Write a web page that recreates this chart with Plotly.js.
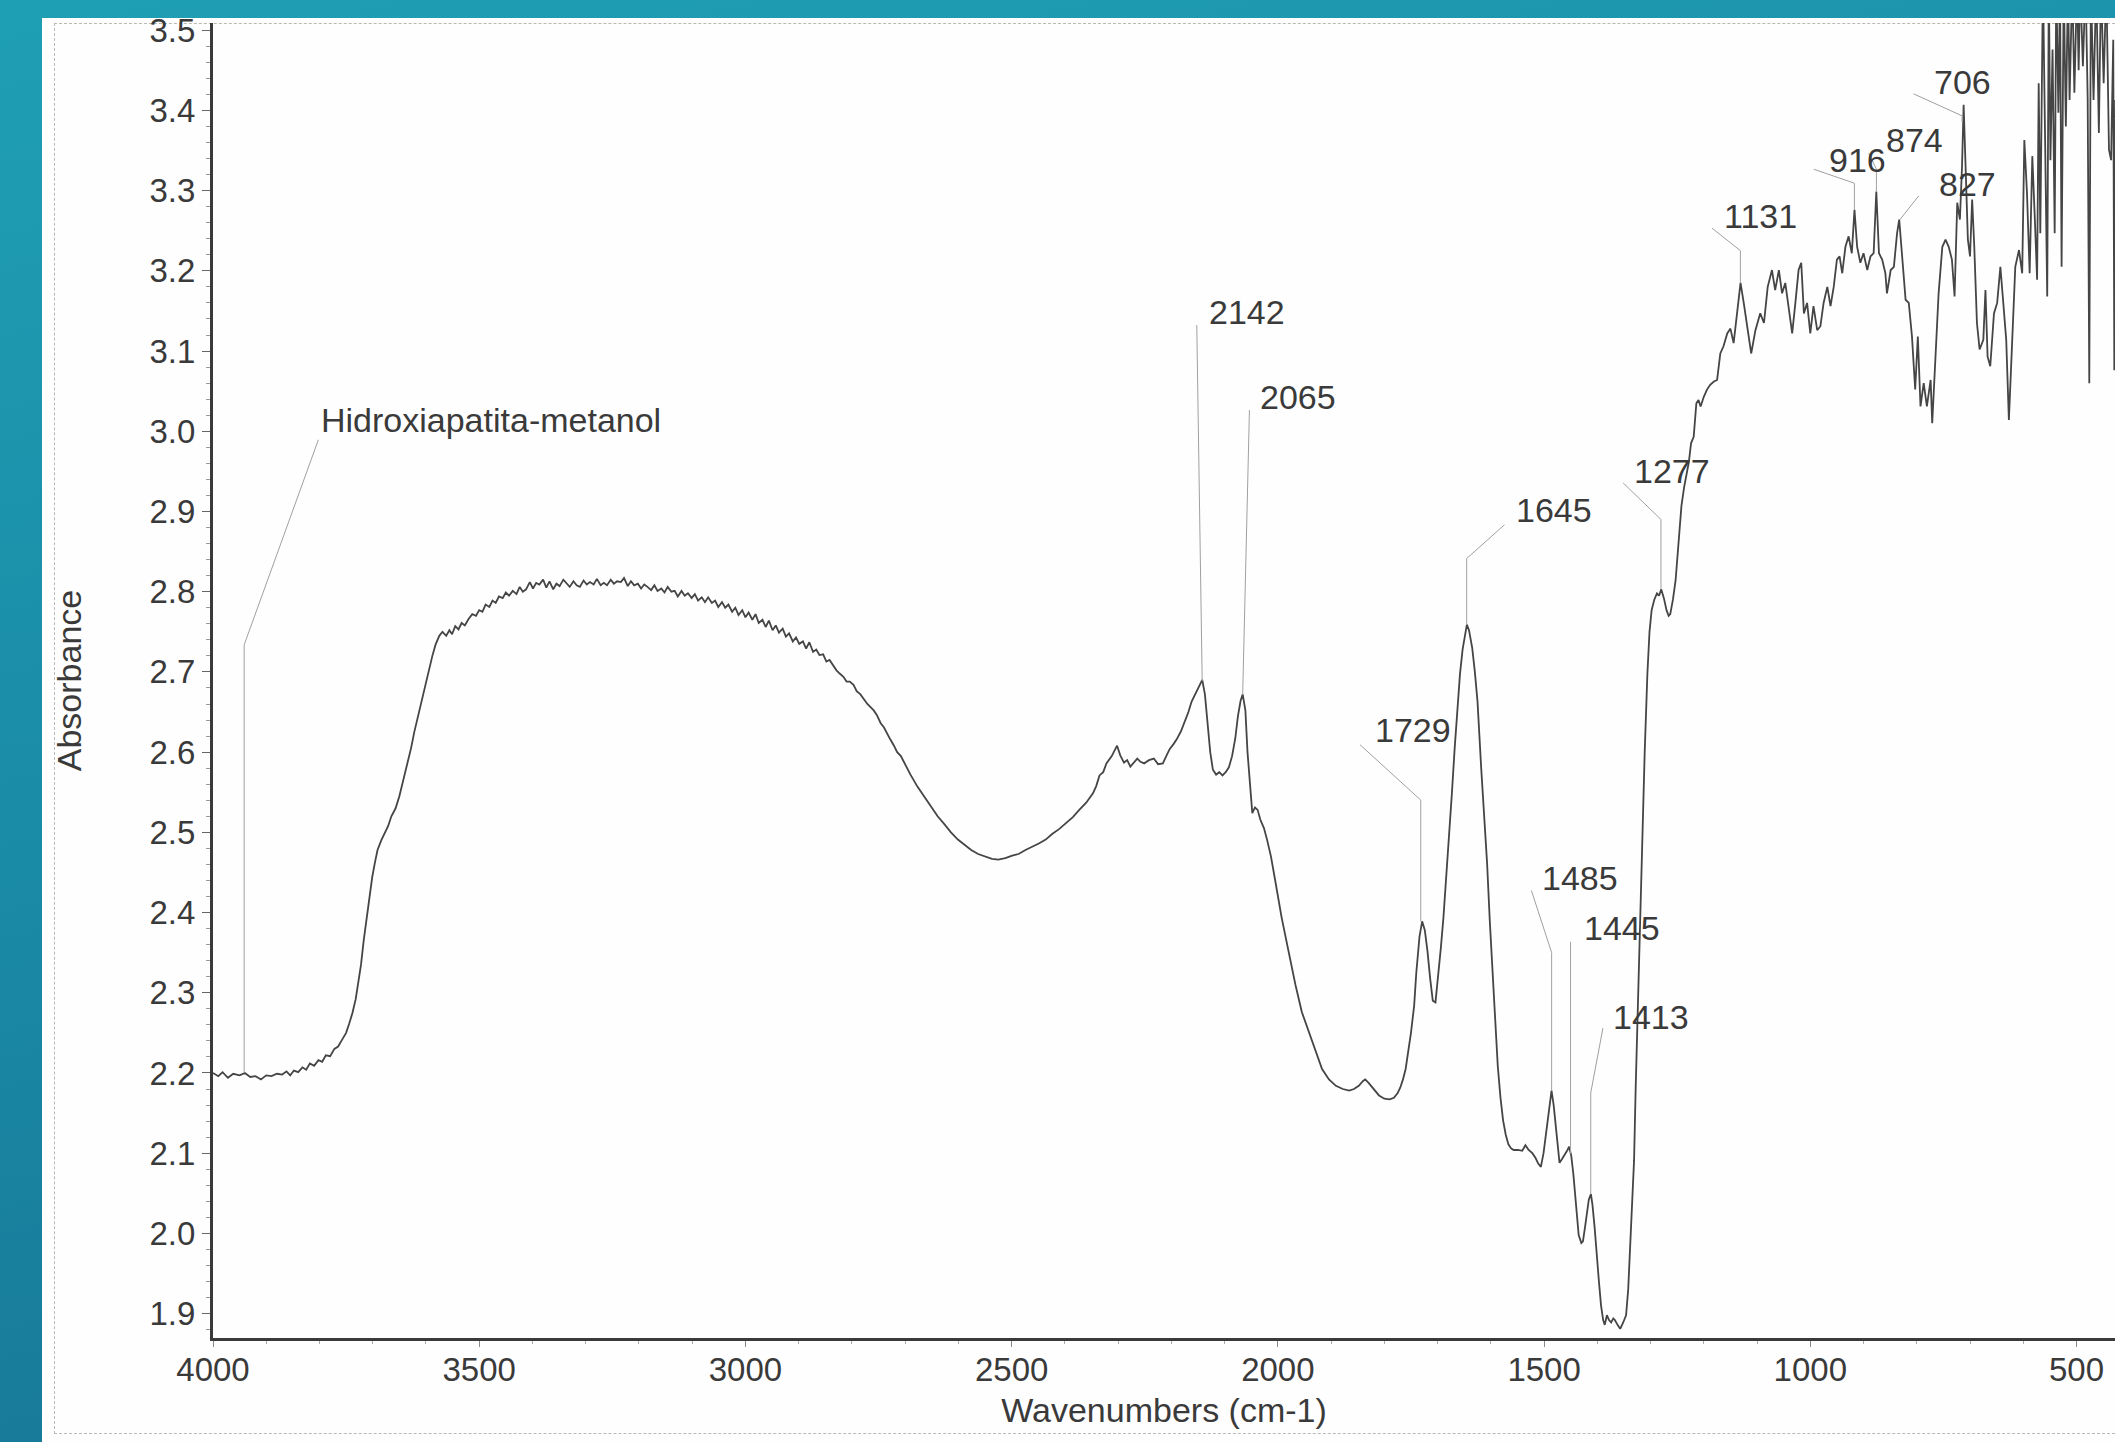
<!DOCTYPE html>
<html><head><meta charset="utf-8">
<script src="https://cdn.plot.ly/plotly-3.0.1.min.js"></script>
<style>
html,body{margin:0;padding:0;width:2115px;height:1442px;overflow:hidden;}
body{background:linear-gradient(168deg,#1f9fb4 0%,#1a8ba7 45%,#166f90 100%);position:relative;}
#page{position:absolute;left:42px;top:18px;width:2073px;height:1424px;background:#fefefe;}
#frame{position:absolute;left:54px;top:23px;width:2070px;height:1409px;border-left:1px dashed #b8b8b8;border-top:1px dashed #b8b8b8;border-bottom:1px dashed #b8b8b8;}
#chart{position:absolute;left:0;top:0;width:2115px;height:1442px;}
</style></head><body>
<div id="page"></div><div id="frame"></div><div id="chart"></div>
<script>
// ---- data ----
const sampleName = 'Hidroxiapatita-metanol';
const xTitle = 'Wavenumbers (cm-1)';
const yTitle = 'Absorbance';
const xTickValues = [4000, 3500, 3000, 2500, 2000, 1500, 1000, 500];
const yTickValues = [1.9, 2.0, 2.1, 2.2, 2.3, 2.4, 2.5, 2.6, 2.7, 2.8, 2.9, 3.0, 3.1, 3.2, 3.3, 3.4, 3.5];
const peakLabels = ['2142','2065','1729','1645','1485','1445','1413','1277','1131','916','874','827','706'];

const wavenumbers = [
4000,3990,3982,3972,3962,3950,3940,3930,3920,3910,3900,3890,3880,3870,3862,3855,3848,3840,3832,3825,3818,3810,3802,3795,3788,3780,3772,3765,3758,3750,
3744,3738,3732,3727,3722,3717,3711,3706,3701,3696,3691,3684,3678,3671,3665,3657,3650,3642,3635,3628,3622,3615,3609,3601,3594,3588,3582,3575,3569,3562,
3556,3551,3545,3539,3533,3527,3520,3513,3506,3500,3494,3488,3481,3475,3469,3463,3456,3450,3444,3437,3430,3424,3418,3412,3405,3399,3393,3387,3380,3374,
3368,3361,3355,3349,3342,3336,3330,3323,3317,3311,3304,3298,3292,3285,3279,3272,3266,3260,3253,3247,3241,3234,3228,3221,3215,3209,3202,3196,3190,3184,
3177,3171,3165,3158,3152,3146,3139,3133,3127,3120,3114,3108,3101,3095,3089,3082,3076,3070,3063,3057,3051,3044,3038,3032,3025,3019,3013,3006,3000,2994,
2987,2981,2975,2968,2962,2956,2949,2943,2937,2930,2924,2918,2911,2905,2899,2892,2886,2880,2873,2867,2861,2854,2848,2842,2835,2829,2823,2816,2810,2804,
2797,2791,2784,2778,2771,2765,2759,2753,2746,2740,2734,2728,2721,2715,2708,2702,2690,2677,2665,2652,2639,2626,2614,2601,2588,2576,2563,2550,2537,2525,
2512,2499,2487,2474,2461,2449,2436,2424,2411,2398,2385,2373,2360,2347,2341,2335,2328,2322,2312,2302,2296,2289,2283,2277,2270,2264,2258,2251,2242,2233,
2225,2216,2209,2203,2196,2190,2182,2175,2168,2162,2155,2148,2142,2137,2132,2127,2122,2116,2110,2104,2098,2092,2086,2080,2075,2070,2066,2061,2057,2052,
2048,2043,2038,2033,2026,2020,2013,2005,1993,1980,1967,1955,1942,1929,1917,1904,1891,1878,1866,1857,1848,1840,1836,1830,1823,1810,1800,1790,1782,1775,
1770,1765,1760,1755,1750,1744,1740,1734,1729,1724,1719,1714,1709,1704,1699,1694,1689,1684,1678,1673,1668,1663,1658,1653,1648,1645,1641,1635,1630,1625,
1618,1612,1607,1602,1597,1592,1587,1582,1577,1572,1567,1562,1557,1549,1541,1535,1529,1522,1516,1511,1506,1501,1496,1491,1486,1482,1478,1474,1471,1466,
1460,1456,1453,1449,1445,1440,1435,1430,1427,1423,1420,1416,1412,1409,1405,1401,1397,1393,1389,1386,1382,1378,1374,1370,1367,1362,1357,1352,1346,1342,
1339,1335,1331,1328,1324,1320,1316,1311,1306,1302,1298,1293,1288,1284,1280,1275,1270,1266,1263,1258,1253,1248,1242,1237,1232,1228,1224,1219,1214,1210,
1206,1200,1194,1188,1181,1175,1169,1163,1156,1150,1144,1138,1131,1125,1119,1111,1103,1094,1087,1080,1072,1066,1059,1053,1047,1040,1034,1028,1022,1017,
1012,1006,1000,994,987,981,975,968,962,956,950,945,940,934,928,922,917,912,906,900,893,887,881,876,871,865,859,856,849,843,
837,833,828,821,815,809,803,798,793,787,781,774,771,765,759,752,746,740,734,729,724,719,715,712,708,704,700,696,692,687,
682,675,671,667,662,655,649,643,638,632,627,622,615,608,602,598,593,588,583,578,574,571,568,563,558,555,552,549,545,541,
538,534,531,528,524,520,516,513,508,504,499,496,493,488,483,479,476,473,468,463,458,454,449,444,439,435,431,429,427
];

const absorbance = [
2.200,2.196,2.201,2.194,2.199,2.197,2.200,2.195,2.196,2.192,2.197,2.196,2.199,2.198,2.202,2.197,2.203,2.201,2.207,2.204,2.212,2.209,2.216,2.214,2.222,2.221,2.230,2.233,2.241,2.250,
2.262,2.275,2.292,2.312,2.335,2.365,2.394,2.425,2.444,2.462,2.478,2.490,2.498,2.508,2.520,2.530,2.545,2.566,2.587,2.605,2.625,2.645,2.663,2.685,2.705,2.720,2.734,2.745,2.750,2.745,
2.752,2.747,2.757,2.753,2.761,2.758,2.766,2.772,2.770,2.777,2.775,2.784,2.781,2.789,2.786,2.794,2.792,2.799,2.795,2.801,2.797,2.806,2.800,2.803,2.812,2.804,2.811,2.809,2.815,2.805,
2.813,2.803,2.810,2.807,2.815,2.811,2.806,2.813,2.808,2.806,2.814,2.809,2.812,2.809,2.816,2.808,2.811,2.808,2.815,2.810,2.813,2.812,2.817,2.807,2.813,2.808,2.810,2.804,2.809,2.806,
2.802,2.808,2.801,2.804,2.799,2.806,2.800,2.801,2.794,2.801,2.795,2.798,2.792,2.797,2.789,2.793,2.787,2.793,2.786,2.789,2.781,2.787,2.780,2.784,2.775,2.780,2.771,2.777,2.768,2.774,
2.765,2.772,2.761,2.765,2.756,2.764,2.752,2.758,2.749,2.754,2.744,2.748,2.738,2.743,2.735,2.738,2.729,2.737,2.725,2.728,2.721,2.722,2.713,2.715,2.707,2.702,2.698,2.694,2.688,2.688,
2.684,2.676,2.672,2.666,2.660,2.656,2.652,2.646,2.636,2.631,2.623,2.616,2.608,2.600,2.595,2.587,2.572,2.557,2.545,2.532,2.520,2.510,2.500,2.491,2.484,2.478,2.473,2.470,2.467,2.466,
2.468,2.471,2.473,2.478,2.482,2.486,2.491,2.498,2.504,2.512,2.519,2.528,2.537,2.549,2.558,2.571,2.575,2.586,2.595,2.608,2.596,2.587,2.590,2.582,2.588,2.592,2.588,2.586,2.590,2.592,
2.585,2.586,2.596,2.604,2.610,2.616,2.626,2.638,2.650,2.663,2.672,2.682,2.690,2.672,2.640,2.600,2.578,2.572,2.575,2.571,2.575,2.581,2.595,2.617,2.645,2.664,2.672,2.652,2.600,2.550,
2.524,2.531,2.528,2.516,2.505,2.490,2.470,2.440,2.394,2.352,2.310,2.276,2.251,2.226,2.205,2.192,2.184,2.180,2.178,2.180,2.184,2.190,2.192,2.188,2.182,2.172,2.168,2.167,2.169,2.175,
2.182,2.192,2.205,2.226,2.250,2.284,2.325,2.370,2.389,2.378,2.352,2.318,2.290,2.288,2.318,2.355,2.394,2.440,2.495,2.550,2.604,2.650,2.697,2.728,2.750,2.759,2.752,2.730,2.700,2.663,
2.579,2.520,2.461,2.390,2.327,2.265,2.209,2.170,2.141,2.123,2.111,2.106,2.104,2.104,2.103,2.110,2.104,2.100,2.094,2.087,2.083,2.100,2.125,2.155,2.178,2.160,2.133,2.103,2.088,2.093,
2.099,2.104,2.108,2.097,2.074,2.035,1.998,1.988,1.990,2.008,2.024,2.042,2.049,2.035,2.007,1.970,1.940,1.910,1.892,1.886,1.898,1.892,1.889,1.894,1.892,1.886,1.881,1.888,1.898,1.930,
1.973,2.030,2.091,2.180,2.276,2.385,2.495,2.600,2.697,2.750,2.777,2.790,2.798,2.795,2.803,2.792,2.777,2.770,2.772,2.790,2.814,2.860,2.907,2.930,2.949,2.962,2.985,2.993,3.035,3.039,
3.031,3.043,3.052,3.058,3.062,3.064,3.097,3.106,3.122,3.128,3.110,3.147,3.185,3.160,3.131,3.097,3.126,3.147,3.135,3.180,3.201,3.176,3.201,3.172,3.185,3.147,3.122,3.160,3.201,3.210,
3.147,3.160,3.122,3.156,3.126,3.131,3.160,3.180,3.156,3.180,3.214,3.218,3.197,3.230,3.243,3.222,3.276,3.230,3.210,3.222,3.201,3.218,3.222,3.299,3.222,3.214,3.197,3.172,3.201,3.205,
3.247,3.264,3.218,3.164,3.160,3.118,3.052,3.118,3.031,3.060,3.031,3.064,3.010,3.089,3.172,3.230,3.239,3.230,3.214,3.168,3.285,3.264,3.330,3.407,3.322,3.239,3.218,3.289,3.230,3.135,
3.102,3.114,3.176,3.093,3.081,3.147,3.160,3.205,3.164,3.114,3.014,3.093,3.205,3.226,3.197,3.363,3.297,3.197,3.343,3.260,3.189,3.434,3.247,3.560,3.330,3.168,3.560,3.338,3.476,3.247,
3.560,3.397,3.560,3.205,3.560,3.380,3.560,3.413,3.560,3.422,3.560,3.450,3.560,3.455,3.560,3.413,3.060,3.560,3.413,3.560,3.372,3.560,3.434,3.560,3.351,3.338,3.488,3.076,3.413
];

// ---- label placement (layout only) ----
const fontFamily = 'Liberation Sans, Arial, sans-serif';
const textColor = '#3a3a3a';
const labelFont = {family: fontFamily, size: 34, color: textColor};
const placements = [
  {t: sampleName, x: 3799.6, y: 3.0146, path: [[3802.1,2.9894],[3941.5,2.7337],[3941.5,2.2003]]},
  {t: peakLabels[0], x: 2132.0, y: 3.1492, path: [[2152.3,3.1324],[2142.1,2.6883]]},
  {t: peakLabels[1], x: 2035.7, y: 3.0432, path: [[2053.4,3.0264],[2066.1,2.6714]]},
  {t: peakLabels[2], x: 1820.3, y: 2.6277, path: [[1845.6,2.6092],[1731.6,2.5402],[1731.6,2.3888]]},
  {t: peakLabels[3], x: 1554.2, y: 2.9019, path: [[1574.4,2.8834],[1645.4,2.8413],[1645.4,2.7589]]},
  {t: peakLabels[4], x: 1506.0, y: 2.4426, path: [[1523.8,2.4275],[1485.8,2.3501],[1485.8,2.1784]]},
  {t: peakLabels[5], x: 1427.5, y: 2.3804, path: [[1450.3,2.3635],[1450.3,2.0994]]},
  {t: peakLabels[6], x: 1371.7, y: 2.2693, path: [[1389.5,2.2559],[1412.4,2.1751],[1412.4,2.0489]]},
  {t: peakLabels[7], x: 1333.7, y: 2.9507, path: [[1351.5,2.9356],[1280.5,2.8901],[1280.5,2.8027]]},
  {t: peakLabels[8], x: 1163.3, y: 3.2685, path: [[1184.5,3.2532],[1131.3,3.2252],[1131.3,3.1846]]},
  {t: peakLabels[9], x: 966.0, y: 3.3383, path: [[993.6,3.3267],[917.2,3.3093],[917.2,3.2760]]},
  {t: peakLabels[10], x: 860.0, y: 3.3633, path: [[890.3,3.3467],[875.8,3.3268],[875.8,3.2988]]},
  {t: peakLabels[11], x: 759.4, y: 3.3084, path: [[796.4,3.2935],[832.1,3.2635]]},
  {t: peakLabels[12], x: 768.8, y: 3.4350, path: [[806.0,3.4207],[714.8,3.3932],[714.8,3.3857]]}
];

const annotations = placements.map(p => ({
  x: p.x, y: p.y, xref: 'x', yref: 'y', text: p.t, showarrow: false,
  xanchor: 'left', yanchor: 'middle', font: labelFont, borderpad: 0
}));
const shapes = placements.map(p => ({
  type: 'path', xref: 'x', yref: 'y',
  path: 'M ' + p.path.map(q => q[0] + ',' + q[1]).join(' L '),
  line: {color: '#a0a0a0', width: 1}
}));

const trace = {
  x: wavenumbers, y: absorbance, type: 'scatter', mode: 'lines',
  line: {color: '#454545', width: 1.8}, hoverinfo: 'skip', showlegend: false
};

const tickFont = {family: fontFamily, size: 33, color: textColor};
const titleFont = {family: fontFamily, size: 34, color: textColor};
const layout = {
  width: 2115, height: 1442,
  paper_bgcolor: 'rgba(0,0,0,0)', plot_bgcolor: 'rgba(0,0,0,0)',
  margin: {l: 213, r: 0, t: 23, b: 104},
  showlegend: false,
  xaxis: {
    range: [4000, 427.7], autorange: false,
    tickmode: 'array', tickvals: xTickValues, ticktext: xTickValues.map(String),
    ticks: 'outside', ticklen: 6, tickwidth: 1, tickcolor: '#888',
    minor: {ticks: 'outside', dtick: 100, tick0: 0, ticklen: 3, tickwidth: 1, tickcolor: '#aaa'},
    showline: true, linecolor: '#3a3a3a', linewidth: 3, mirror: false,
    showgrid: false, zeroline: false, tickfont: tickFont, ticklabelstandoff: -6,
    title: {text: xTitle, font: titleFont, standoff: 12}
  },
  yaxis: {
    range: [1.8696, 3.509], autorange: false,
    tickmode: 'array', tickvals: yTickValues, ticktext: yTickValues.map(v => v.toFixed(1)),
    ticks: 'outside', ticklen: 8, tickwidth: 1, tickcolor: '#666',
    minor: {ticks: 'outside', dtick: 0.02, tick0: 0, ticklen: 4, tickwidth: 1, tickcolor: '#999'},
    showline: true, linecolor: '#3a3a3a', linewidth: 3, mirror: false,
    showgrid: false, zeroline: false, tickfont: tickFont,
    title: {text: yTitle, font: titleFont, standoff: 58}
  },
  annotations: annotations,
  shapes: shapes
};

Plotly.newPlot('chart', [trace], layout, {staticPlot: true, displayModeBar: false});
</script></body></html>
